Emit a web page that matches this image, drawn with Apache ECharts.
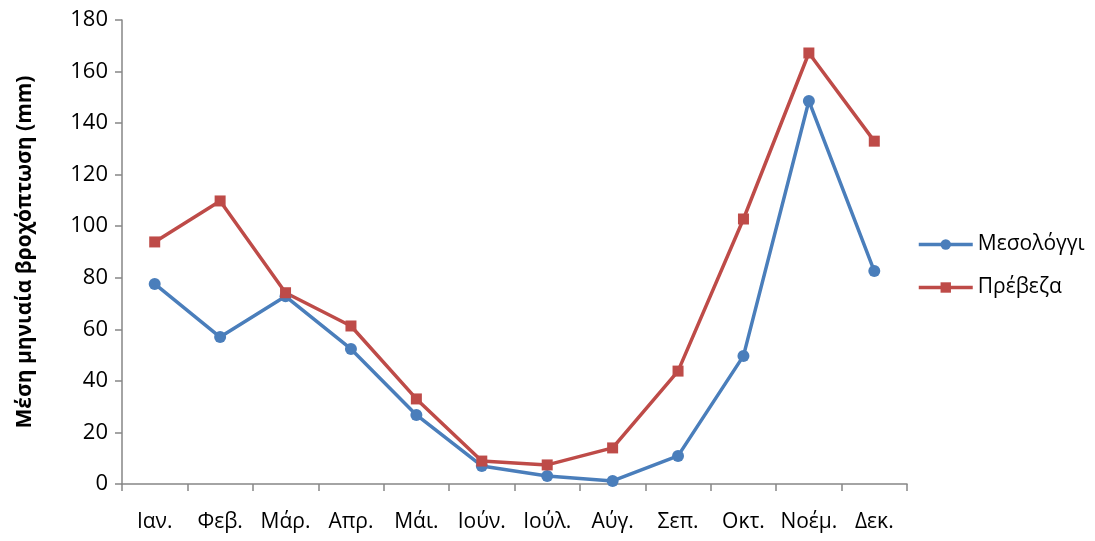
<!DOCTYPE html>
<html><head><meta charset="utf-8">
<script src="https://cdn.jsdelivr.net/npm/echarts@6/dist/echarts.min.js"></script>
<style>html,body{margin:0;padding:0;background:#fff}#c{width:1095px;height:541px}</style>
</head><body><div id="c"></div>
<script>
const months = ['Ιαν.','Φεβ.','Μάρ.','Απρ.','Μάι.','Ιούν.','Ιούλ.','Αύγ.','Σεπ.','Οκτ.','Νοέμ.','Δεκ.'];
const mesolongi = [77.6, 57, 72.8, 52.4, 26.8, 7, 3.1, 1.2, 10.9, 49.7, 148.6, 82.6];
const preveza = [93.9, 109.8, 74.2, 61.3, 33, 8.9, 7.4, 14, 43.8, 102.8, 167.2, 133];
const seriesNames = ['Μεσολόγγι','Πρέβεζα'];
const yTitle = 'Μέση μηνιαία βροχόπτωση (mm)';
const font = 'Open Sans';
const chart = echarts.init(document.getElementById('c'), null, {renderer:'canvas'});
chart.setOption({
  animation:false,
  backgroundColor:'#fff',
  grid:{left:122, right:188, top:20, bottom:57},
  legend:{
    orient:'vertical', left:912, top:229, itemWidth:54, itemHeight:13, itemGap:22,
    lineStyle:{width:3.5},
    textStyle:{fontFamily:font, fontSize:21, color:'#000'},
    data:seriesNames
  },
  xAxis:{
    type:'category', data:months, boundaryGap:true,
    axisLine:{lineStyle:{color:'#868686', width:1.5}},
    axisTick:{show:true, length:7, lineStyle:{color:'#868686', width:1.5}},
    axisLabel:{fontFamily:font, fontSize:21, color:'#000', margin:28, interval:0}
  },
  yAxis:{
    type:'value', min:0, max:180, interval:20,
    name:yTitle, nameLocation:'middle', nameGap:86, nameRotate:90,
    nameTextStyle:{fontFamily:font, fontSize:21, fontWeight:'bold', color:'#000'},
    axisLine:{show:true, lineStyle:{color:'#868686', width:1.5}},
    axisTick:{show:true, length:7, lineStyle:{color:'#868686', width:1.5}},
    splitLine:{show:false},
    axisLabel:{fontFamily:font, fontSize:22, color:'#000', margin:14}
  },
  series:[
    {name:seriesNames[0], type:'line', data:mesolongi, symbol:'circle', symbolSize:12,
     lineStyle:{color:'#4A7EBB', width:3.5}, itemStyle:{color:'#4A7EBB'}},
    {name:seriesNames[1], type:'line', data:preveza, symbol:'rect', symbolSize:11,
     lineStyle:{color:'#BE4B48', width:3.5}, itemStyle:{color:'#BE4B48'}}
  ]
});
</script></body></html>
